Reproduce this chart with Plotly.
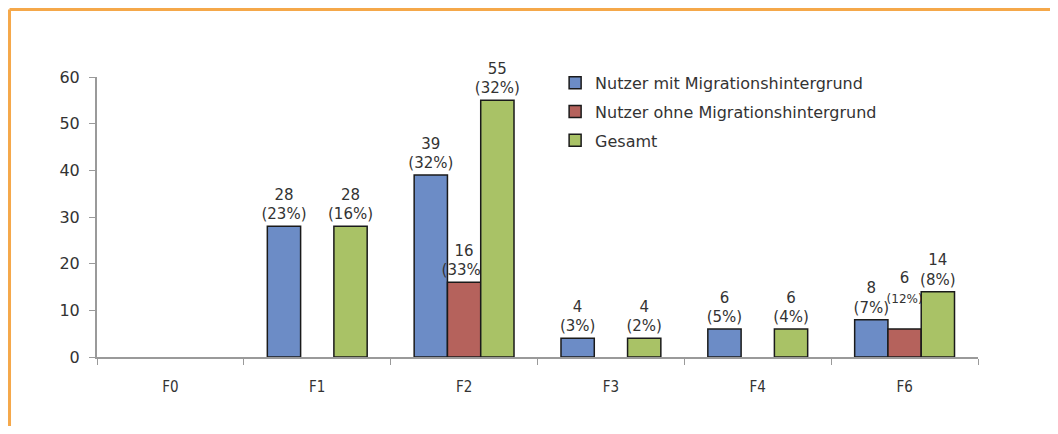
import plotly.graph_objects as go

categories = ["F0", "F1", "F2", "F3", "F4", "F6"]

mit_values = [None, 28, 39, 4, 6, 8]
mit_pct = ["", "23%", "32%", "3%", "5%", "7%"]

ohne_values = [None, None, 16, None, None, 6]
ohne_pct = ["", "", "33%", "", "", "12%"]

gesamt_values = [None, 28, 55, 4, 6, 14]
gesamt_pct = ["", "16%", "32%", "2%", "4%", "8%"]

y_ticks = [0, 10, 20, 30, 40, 50, 60]

FONT = "DejaVu Sans"
TXT = "#333333"


def labels(vals, pcts, small=()):
    out = []
    for i, (v, p) in enumerate(zip(vals, pcts)):
        if v is None:
            out.append("")
        elif i in small:
            out.append(f"{v}<br><span style='font-size:12px'>({p})</span><br> ")
        else:
            out.append(f"{v}<br>({p})")
    return out


fig = go.Figure()

fig.add_trace(go.Bar(
    name="Nutzer mit Migrationshintergrund", legendgroup="a",
    x=categories, y=mit_values,
    text=labels(mit_values, mit_pct),
    textposition="outside", cliponaxis=False, constraintext="none",
    textfont=dict(family=FONT, size=15, color=TXT),
    marker=dict(color="#6C8CC6", line=dict(color="#1a1a1a", width=1.5)),
))
fig.add_trace(go.Bar(
    name="Nutzer ohne Migrationshintergrund", legendgroup="b",
    x=categories, y=ohne_values,
    text=labels(ohne_values, ohne_pct, small=(5,)),
    textposition="outside", cliponaxis=False, constraintext="none",
    textfont=dict(family=FONT, size=15, color=TXT),
    marker=dict(color="#B5625C", line=dict(color="#1a1a1a", width=1.5)),
))
fig.add_trace(go.Bar(
    name="Gesamt", legendgroup="c",
    x=categories, y=gesamt_values,
    text=labels(gesamt_values, gesamt_pct),
    textposition="outside", cliponaxis=False, constraintext="none",
    textfont=dict(family=FONT, size=15, color=TXT),
    marker=dict(color="#A9C266", line=dict(color="#1a1a1a", width=1.5)),
))

# orange frame, top and left only
fig.add_shape(type="line", xref="paper", yref="paper",
              x0=-0.0993, x1=1.2, y0=1.241, y1=1.241,
              line=dict(color="#F5A84A", width=3))
fig.add_shape(type="line", xref="paper", yref="paper",
              x0=-0.0993, x1=-0.0993, y0=1.241, y1=-0.3,
              line=dict(color="#F5A84A", width=3))

fig.update_layout(
    width=1042, height=418,
    margin=dict(l=89, r=72, t=69, b=69),
    paper_bgcolor="white", plot_bgcolor="white",
    barmode="group", bargap=0.32, bargroupgap=0,
    font=dict(family=FONT, size=13, color=TXT),
    showlegend=True,
    legend=dict(x=0.52, y=1.04, xanchor="left", yanchor="top",
                font=dict(family=FONT, size=16, color=TXT),
                itemwidth=30, tracegroupgap=5,
                bgcolor="rgba(0,0,0,0)"),
)
fig.update_xaxes(
    type="category", showgrid=False, showline=True,
    linecolor="#9a9a9a", linewidth=2,
    ticks="outside", tickson="boundaries", ticklen=6,
    tickcolor="#9a9a9a", tickwidth=1,
    tickfont=dict(family="DejaVu Sans Condensed", size=15, color=TXT),
    ticklabelstandoff=15,
)
fig.update_yaxes(
    range=[0, 60], tickvals=y_ticks, showgrid=False, zeroline=False,
    showline=True, linecolor="#9a9a9a", linewidth=2,
    ticks="outside", ticklen=6, tickcolor="#9a9a9a", tickwidth=1,
    tickfont=dict(family=FONT, size=16, color=TXT),
    ticklabelstandoff=6,
)

fig.write_html("out.html")
